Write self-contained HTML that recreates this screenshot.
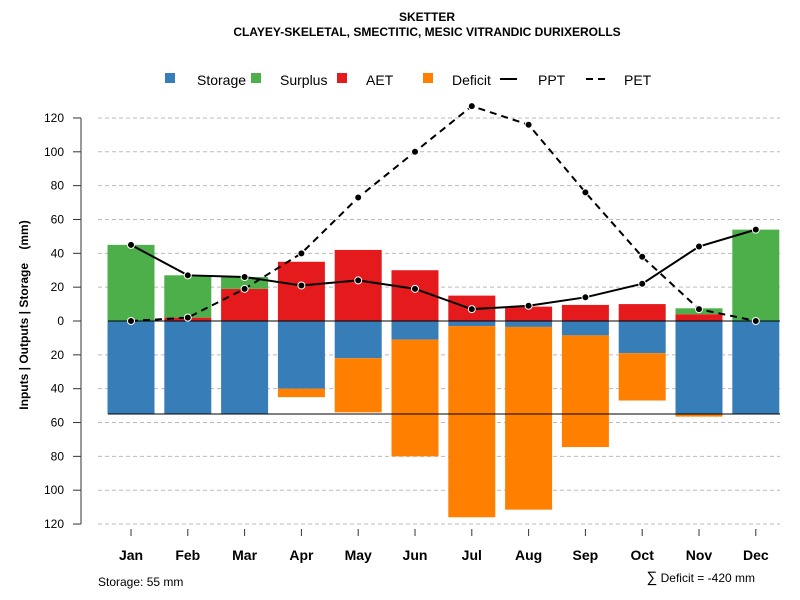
<!DOCTYPE html>
<html><head><meta charset="utf-8"><style>
body{margin:0;background:#fff}
svg{display:block;font-family:"Liberation Sans",sans-serif}
</style></head><body>
<svg id="chart" width="800" height="600">
<text x="427" y="21" text-anchor="middle" font-size="12" font-weight="bold">SKETTER</text>
<text x="427" y="36" text-anchor="middle" font-size="12" font-weight="bold">CLAYEY-SKELETAL, SMECTITIC, MESIC VITRANDIC DURIXEROLLS</text>
<g id="grid"></g>
<g id="bars"></g>
<g id="lines"></g>
<g id="axes"></g>
<text transform="translate(28,315) rotate(-90)" text-anchor="middle" font-size="12" font-weight="bold" xml:space="preserve">Inputs | Outputs | Storage    (mm)</text>
<text x="98" y="586" font-size="12">Storage: 55 mm</text>
<text x="755" y="582" text-anchor="end" font-size="12"><tspan font-size="15">∑</tspan> Deficit = -420 mm</text>
<g font-size="14">
<rect x="165" y="73" width="10" height="10" fill="#377eb8"/>
<text x="197" y="85">Storage</text>
<rect x="251" y="73" width="10" height="10" fill="#4daf4a"/>
<text x="280" y="85">Surplus</text>
<rect x="337" y="73" width="10" height="10" fill="#e41a1c"/>
<text x="366" y="85">AET</text>
<rect x="423" y="73" width="10" height="10" fill="#ff7f00"/>
<text x="452" y="85">Deficit</text>
<line x1="500" y1="79" x2="517" y2="79" stroke="#000" stroke-width="2"/>
<text x="538" y="85">PPT</text>
<line x1="586" y1="79" x2="609" y2="79" stroke="#000" stroke-width="2" stroke-dasharray="7,5"/>
<text x="624" y="85">PET</text>
</g>
</svg>
<script>
const months=["Jan","Feb","Mar","Apr","May","Jun","Jul","Aug","Sep","Oct","Nov","Dec"];
const storage=[55,55,55,40,22,11,3,3.5,8.5,19,55,55];
const deficit=[0,0,0,5,32,69,113,108,66,28,1.5,0];
const aet=[0,2,19,35,42,30,15,8.5,9.5,10,4,0];
const surplus=[45,25,7,0,0,0,0,0,0,0,3.5,54];
const ppt=[45,27,26,21,24,19,7,9,14,22,44,54];
const pet=[0,2,19,40,73,100,127,116,76,38,7,0];
const yTicks=[120,100,80,60,40,20,0,-20,-40,-60,-80,-100,-120];
const storageMax=55;
const NS="http://www.w3.org/2000/svg";
const x=i=>131+i*56.8;
const y=v=>321-v*1.692;
const bw=47;
function mk(p,t,a){const e=document.createElementNS(NS,t);for(const k in a)e.setAttribute(k,a[k]);p.appendChild(e);return e;}
const grid=document.getElementById('grid'),bars=document.getElementById('bars'),lines=document.getElementById('lines'),axes=document.getElementById('axes');
yTicks.forEach(t=>{
  if(t!==0){const g=mk(grid,'line',{x1:98,x2:780,y1:y(t),y2:y(t),stroke:'#bbb','stroke-dasharray':'4,3'});
  
  }
  const tk=mk(axes,'line',{x1:73,x2:81,y1:y(t),y2:y(t),stroke:'#333'});
  
  
  const tl=mk(axes,'text',{x:64,y:y(t)+4,'text-anchor':'end','font-size':12});
  tl.textContent=Math.abs(t);
  
  
});
const ax=mk(axes,'line',{x1:81,x2:81,y1:y(120),y2:y(-120),stroke:'#333'});


function bar(i,v0,v1,c,n){if(v1===v0)return;const r=mk(bars,'rect',{x:x(i)-bw/2,y:Math.min(y(v0),y(v1)),width:bw,height:Math.abs(y(v1)-y(v0)),fill:c});
  
  }
months.forEach((m,i)=>{
  bar(i,0,-storage[i],'#377eb8','bar-storage-'+m.toLowerCase());
  bar(i,-storage[i],-storage[i]-deficit[i],'#ff7f00','bar-deficit-'+m.toLowerCase());
  bar(i,0,aet[i],'#e41a1c','bar-aet-'+m.toLowerCase());
  bar(i,aet[i],aet[i]+surplus[i],'#4daf4a','bar-surplus-'+m.toLowerCase());
  const tk=mk(axes,'line',{x1:x(i),x2:x(i),y1:529,y2:536,stroke:'#333'});
  
  
  const tl=mk(axes,'text',{x:x(i),y:560,'text-anchor':'middle','font-size':14,'font-weight':'bold'});
  tl.textContent=m;
  
  
});
const z=mk(bars,'line',{x1:108,x2:780,y1:y(0),y2:y(0),stroke:'#000'});


const sl=mk(bars,'line',{x1:108,x2:780,y1:y(-storageMax),y2:y(-storageMax),stroke:'#000'});


function series(arr,dash,n){
  const p=mk(lines,'polyline',{points:arr.map((v,i)=>x(i)+','+y(v)).join(' '),fill:'none',stroke:'#000','stroke-width':2,'stroke-dasharray':dash});
  
  
  arr.forEach((v,i)=>{const c=mk(lines,'circle',{cx:x(i),cy:y(v),r:3.5,fill:'#000',stroke:'#fff','stroke-width':1});
    
    });
}
series(pet,'7,5','pet');
series(ppt,'none','ppt');
</script>
</body></html>
